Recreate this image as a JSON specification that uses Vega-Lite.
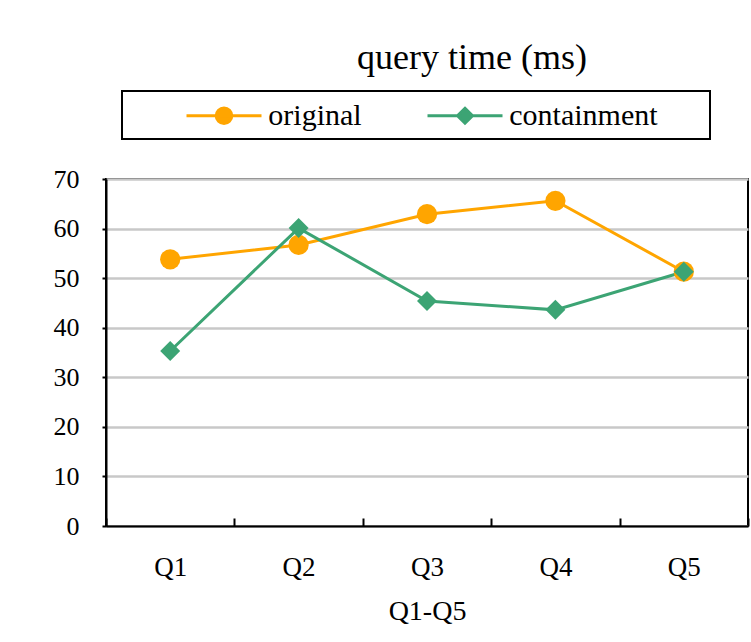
{
  "$schema": "https://vega.github.io/schema/vega-lite/v6.json",
  "width": 642,
  "height": 347,
  "autosize": "none",
  "padding": {"left": 106, "top": 179, "right": 3, "bottom": 116},
  "background": "white",
  "title": {
    "text": "query time (ms)",
    "font": "Liberation Serif",
    "fontSize": 36,
    "fontWeight": "normal",
    "color": "#000",
    "anchor": "middle",
    "frame": "group",
    "dx": 45,
    "baseline": "alphabetic",
    "offset": -15
  },
  "data": {
    "values": [
      {"q": "Q1", "series": "original", "value": 53.8},
      {"q": "Q2", "series": "original", "value": 56.7},
      {"q": "Q3", "series": "original", "value": 62.9},
      {"q": "Q4", "series": "original", "value": 65.6},
      {"q": "Q5", "series": "original", "value": 51.3},
      {"q": "Q1", "series": "containment", "value": 35.3},
      {"q": "Q2", "series": "containment", "value": 60.1},
      {"q": "Q3", "series": "containment", "value": 45.4},
      {"q": "Q4", "series": "containment", "value": 43.6},
      {"q": "Q5", "series": "containment", "value": 51.3}
    ]
  },
  "encoding": {
    "x": {
      "field": "q",
      "type": "ordinal",
      "sort": ["Q1", "Q2", "Q3", "Q4", "Q5"],
      "scale": {"type": "band", "paddingInner": 0, "paddingOuter": 0},
      "axis": {
        "title": "Q1-Q5",
        "tickBand": "extent",
        "labelAngle": 0,
        "labelFont": "Liberation Serif",
        "labelFontSize": 27,
        "labelColor": "#000",
        "labelPadding": 36,
        "tickSize": -8,
        "tickWidth": 2,
        "tickColor": "#000",
        "domainColor": "#000",
        "domainWidth": 2,
        "grid": false,
        "titleFont": "Liberation Serif",
        "titleFontSize": 28,
        "titleFontWeight": "normal",
        "titleColor": "#000",
        "titlePadding": 17
      }
    },
    "y": {
      "field": "value",
      "type": "quantitative",
      "scale": {"domain": [0, 70], "nice": false},
      "axis": {
        "title": null,
        "values": [0, 10, 20, 30, 40, 50, 60, 70],
        "labelFont": "Liberation Serif",
        "labelFontSize": 26,
        "labelColor": "#000",
        "labelPadding": 23,
        "tickSize": 4,
        "tickWidth": 2,
        "tickColor": "#000",
        "domainColor": "#000",
        "domainWidth": 2,
        "grid": true,
        "gridColor": "#C8C8C8",
        "gridWidth": 2.5
      }
    },
    "color": {
      "field": "series",
      "type": "nominal",
      "scale": {"domain": ["original", "containment"], "range": ["#FFA500", "#3CA474"]},
      "legend": {
        "orient": "none",
        "legendX": 16,
        "legendY": -88,
        "direction": "horizontal",
        "title": null,
        "padding": 8,
        "strokeColor": "#000",
        "symbolSize": 900,
        "symbolStrokeWidth": 3,
        "symbolOffset": 77.5,
        "labelOffset": 27.8,
        "columnPadding": 9,
        "labelFont": "Liberation Serif",
        "labelFontSize": 30,
        "labelColor": "#000",
        "labelLimit": 300,
        "encode": {
          "symbols": {
            "update": {
              "shape": {"signal": "datum.value === 'original' ? 'M-2.5,0H2.5M0.52,0A0.52,0.52,0,1,1,-0.52,0A0.52,0.52,0,1,1,0.52,0Z' : 'M-2.5,0H2.5M0,-0.5L0.5,0L0,0.5L-0.5,0ZM15.4,0'"},
              "fill": {"signal": "scale('color', datum.value)"},
              "stroke": {"signal": "scale('color', datum.value)"},
              "strokeWidth": {"value": 3}
            }
          }
        }
      }
    }
  },
  "layer": [
    {
      "mark": {"type": "line", "strokeWidth": 3}
    },
    {
      "transform": [{"filter": "datum.series === 'original'"}],
      "mark": {"type": "point", "shape": "circle", "filled": true, "opacity": 1, "size": 410}
    },
    {
      "transform": [{"filter": "datum.series === 'containment'"}],
      "mark": {"type": "point", "shape": "diamond", "filled": true, "opacity": 1, "size": 400}
    }
  ],
  "config": {
    "view": {"stroke": "#000", "strokeWidth": 2},
    "legend": {"strokeWidth": 2}
  }
}
